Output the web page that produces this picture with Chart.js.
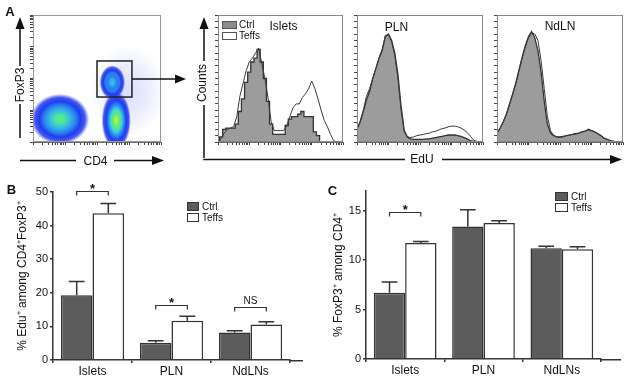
<!DOCTYPE html>
<html><head><meta charset="utf-8">
<script src="https://cdn.jsdelivr.net/npm/chart.js@4/dist/chart.umd.min.js"></script>
<style>
html,body{margin:0;padding:0;background:#fff;}
#root{position:relative;width:630px;height:382px;overflow:hidden;font-family:"Liberation Sans",Arial,Helvetica,sans-serif;color:#111;}
canvas{position:absolute;}
.t{position:absolute;white-space:nowrap;line-height:1;}
.c{transform:translate(-50%,-50%);}
.l{transform:translateY(-50%);}
.r{transform:translate(-50%,-50%) rotate(-90deg);}
.sw{position:absolute;box-sizing:border-box;}
</style></head><body><div id="root">
<canvas id="dot" style="left:0;top:0;width:195px;height:175px" width="195" height="175"></canvas>
<canvas id="hIslets" style="left:210px;top:0;width:140px;height:150px" width="140" height="150"></canvas>
<canvas id="hPLN" style="left:350px;top:0;width:140px;height:150px" width="140" height="150"></canvas>
<canvas id="hNdLN" style="left:490px;top:0;width:140px;height:150px" width="140" height="150"></canvas>
<canvas id="barB" style="left:0;top:170px;width:315px;height:212px" width="315" height="212"></canvas>
<canvas id="barC" style="left:320px;top:170px;width:310px;height:212px" width="310" height="212"></canvas>

<svg width="630" height="382" style="position:absolute;left:0;top:0;pointer-events:none">
<g stroke="#111" stroke-width="1.5" fill="none">
 <line x1="20" y1="28" x2="20" y2="66"/>
 <line x1="20" y1="104" x2="20" y2="138"/>
 <line x1="20" y1="160.5" x2="76" y2="160.5"/>
 <line x1="114" y1="160.5" x2="153" y2="160.5"/>
 <line x1="132" y1="79" x2="176" y2="79"/>
 <line x1="204" y1="28" x2="204" y2="61"/>
 <line x1="204" y1="105" x2="204" y2="158"/>
 <line x1="203.25" y1="159.5" x2="405" y2="159.5"/>
 <line x1="442" y1="159.5" x2="612" y2="159.5"/>
</g>
<g fill="#111">
 <polygon points="20,17 15.5,29 24.5,29"/>
 <polygon points="164,160.5 152,156 152,165"/>
 <polygon points="186,79 175,74.5 175,83.5"/>
 <polygon points="204,17 199.5,29 208.5,29"/>
 <polygon points="622,159.5 610,155 610,164"/>
</g>
</svg>

<div class="t c" style="left:10px;top:11px;font-size:13px;font-weight:bold">A</div>
<div class="t r" style="left:20px;top:85px;font-size:12px">FoxP3</div>
<div class="t c" style="left:95.5px;top:161px;font-size:12px">CD4</div>
<div class="t r" style="left:202px;top:83px;font-size:12px">Counts</div>
<div class="t c" style="left:422px;top:159px;font-size:12px">EdU</div>
<div class="t c" style="left:283.5px;top:25.5px;font-size:12px">Islets</div>
<div class="t c" style="left:396.5px;top:27px;font-size:12px">PLN</div>
<div class="t c" style="left:560px;top:26px;font-size:12px">NdLN</div>
<div class="sw" style="left:222px;top:21px;width:15px;height:8px;background:#8c8c8c;border:1px solid #555"></div>
<div class="sw" style="left:222px;top:32px;width:15px;height:8px;background:#fff;border:1px solid #555"></div>
<div class="t l" style="left:239px;top:25px;font-size:10px">Ctrl</div>
<div class="t l" style="left:239px;top:36px;font-size:10px">Teffs</div>

<div class="t c" style="left:11.5px;top:189px;font-size:13px;font-weight:bold">B</div>
<div class="sw" style="left:187px;top:202px;width:12px;height:9px;background:#5c5c5c;border:1px solid #333"></div>
<div class="sw" style="left:187px;top:213px;width:12px;height:9px;background:#fff;border:1px solid #333"></div>
<div class="t l" style="left:202px;top:206.5px;font-size:10px">Ctrl</div>
<div class="t l" style="left:202px;top:217.5px;font-size:10px">Teffs</div>

<div class="t c" style="left:332.5px;top:189.5px;font-size:13px;font-weight:bold">C</div>
<div class="sw" style="left:555px;top:192px;width:13px;height:9px;background:#5c5c5c;border:1px solid #333"></div>
<div class="sw" style="left:555px;top:203px;width:13px;height:9px;background:#fff;border:1px solid #333"></div>
<div class="t l" style="left:571px;top:196.5px;font-size:10px">Ctrl</div>
<div class="t l" style="left:571px;top:207.5px;font-size:10px">Teffs</div>
</div>
<script>
// ---------- DATA ----------
const barCategories = ['Islets', 'PLN', 'NdLNs'];
const seriesNames = ['Ctrl', 'Teffs'];

// Panel B: % EdU+ among CD4+FoxP3+
const eduCtrl = [19.3, 5.1, 8.2];
const eduCtrlSem = [4.1, 0.6, 0.5];
const eduTeffs = [43.7, 11.7, 10.6];
const eduTeffsSem = [2.9, 1.3, 0.8];
const eduTicks = [0, 10, 20, 30, 40, 50];
const eduSigText = ['*', '*', 'NS'];
const eduSigLevel = [50.3, 16.4, 15.9];

// Panel C: % FoxP3+ among CD4+
const foxCtrl = [6.7, 13.4, 11.2];
const foxCtrlSem = [1.1, 1.7, 0.2];
const foxTeffs = [11.75, 13.75, 11.1];
const foxTeffsSem = [0.15, 0.25, 0.25];
const foxTicks = [0, 5, 10, 15];
const foxSigText = ['*', null, null];
const foxSigLevel = [14.9, null, null];

// Panel A histograms (EdU channel position 0-100, counts as % of panel height)
const histX = [0,2.5,5,7.5,10,12.5,15,17.5,20,22.5,25,27.5,30,32.5,35,37.5,40,42.5,45,47.5,50,52.5,55,57.5,60,62.5,65,67.5,70,72.5,75,77.5,80,82.5,85,87.5,90,92.5,95,97.5,100];
const isletsCtrl  = [0,4,10,11,11,11,14,24,34,47,55,63,66,73,63,50,32,14,6,6,6,6,13,18,20,20,22,24,20,20,20,8,5,0,0,0,0,0,0,0,0];
const isletsTeffs = [0,3,7,10,11,12,20,36,46,56,63,66,70,74,62,50,35,16,9,9,9,9,13,20,27,30,30,35,38,42,48,42,34,25,17,12,6,1,0,0,0];
const plnCtrl  = [10,16,24,33,40,50,58,66,72,83,85,80,70,53,28,9,4,2.5,2,2,2,2,2.5,2.5,3,3.5,4,4.5,5,5.5,5.5,5.5,5,4.5,3.5,2.5,1,0.5,0,0,0];
const plnTeffs = [10,16,25,36,42,50,58,66,73,84,84,79,68,50,25,8,4,3.5,4,5,5.5,6,6.5,7,8,8.5,9.5,10.5,11,12,12.5,12.5,12,11,9.5,7.5,4.5,1.5,0.5,0,0];
const ndlnCtrl  = [7,11,16,22,30,38,47,57,67,76,83,87,82,72,55,32,14,7,5,4,4,4.5,5,5.5,6,6.5,7,8,8.5,10,9,8,6.5,5,3,2,1,0.5,0,0,0];
const ndlnTeffs = [7,11,16,22,30,38,46,56,66,75,82,86,85,80,64,42,20,9,5,4,3.5,4,5,5.5,6,6.5,7,8,8.5,9.5,9,8,6.5,5,3,2,1,0.5,0,0,0];

// Panel A dot plot: populations (CD4 position, FoxP3 position, spread, relative density)
const dotPopNames = ['scatter', 'CD4-FoxP3-', 'CD4+FoxP3-', 'CD4+FoxP3+'];
const dotPopCD4 = [74, 21, 65, 62];
const dotPopFoxP3 = [40, 18, 17, 47];
const dotPopSpreadCD4 = [30, 23, 11.5, 10];
const dotPopSpreadFoxP3 = [36, 20, 23, 13.5];
const dotPopDensity = [0, 0.8, 1.0, 0.52];
const gateCD4 = [50, 77.3];
const gateFoxP3 = [35.4, 63.8];

// log-decade tick positions for cytometry axes (4 decades over 0-100)
const logDecadeStarts = [0, 25, 50, 75];
const logMinor = [1, 2, 3, 4, 5, 6, 7, 8, 9];
const logTicks = logDecadeStarts.flatMap(d => logMinor.map(k => d + 25 * Math.log10(k))).concat([100]);
const histYTicks = [0,5,10,15,20,25,30,35,40,45,50,55,60,65,70,75,80,85,90,95,100];

// ---------- CHARTS ----------
Chart.defaults.font.family = '"Liberation Sans", Arial, Helvetica, sans-serif';
Chart.defaults.color = '#111';
Chart.defaults.animation = false;
Chart.defaults.plugins.legend.display = false;
Chart.defaults.plugins.tooltip.enabled = false;

const frame = {
  id: 'frame',
  afterDraw(chart, args, opts) {
    const a = chart.chartArea, c = chart.ctx;
    c.save();
    c.strokeStyle = opts.color || '#888';
    c.lineWidth = 1;
    c.strokeRect(Math.round(a.left) + 0.5, Math.round(a.top) + 0.5, Math.round(a.right - a.left) - 1, Math.round(a.bottom - a.top) - 1);
    c.restore();
  }
};

function tickAxis(size, horizontal, vals) {
  return {
    type: 'linear', min: 0, max: 100,
    ticks: { display: false },
    grid: { drawOnChartArea: false, tickLength: 3, color: '#444', lineWidth: 1 },
    border: { display: true, color: '#666', width: 1 },
    afterBuildTicks: s => { s.ticks = vals.map(v => ({ value: v })); },
    afterFit: s => { if (horizontal) s.height = size; else s.width = size; }
  };
}

// colour map for density plot
const cmapStops = [[0, [28, 45, 235]], [0.35, [45, 140, 245]], [0.55, [60, 215, 215]], [0.78, [85, 240, 115]], [1, [225, 240, 30]]];
function cmap(t, a) {
  t = Math.max(0, Math.min(1, t));
  for (let i = 1; i < cmapStops.length; i++) {
    const [t1, c1] = cmapStops[i], [t0, c0] = cmapStops[i - 1];
    if (t <= t1) {
      const f = (t - t0) / (t1 - t0);
      const c = c0.map((v, j) => Math.round(v + (c1[j] - v) * f));
      return `rgba(${c[0]},${c[1]},${c[2]},${a})`;
    }
  }
  return `rgba(225,240,30,${a})`;
}

const densityPlugin = {
  id: 'density',
  beforeDatasetsDraw(chart) {
    const { ctx, chartArea: a, scales: { x, y } } = chart;
    ctx.save();
    ctx.beginPath(); ctx.rect(a.left, a.top, a.right - a.left, a.bottom - a.top); ctx.clip();
    for (let i = 0; i < dotPopCD4.length; i++) {
      const px = x.getPixelForValue(dotPopCD4[i]);
      const py = y.getPixelForValue(dotPopFoxP3[i]);
      const rx = Math.abs(x.getPixelForValue(dotPopCD4[i] + dotPopSpreadCD4[i]) - px);
      const ry = Math.abs(y.getPixelForValue(dotPopFoxP3[i] + dotPopSpreadFoxP3[i]) - py);
      const p = dotPopDensity[i];
      ctx.save();
      ctx.translate(px, py); ctx.scale(rx, ry);
      const g = ctx.createRadialGradient(0, 0, 0, 0, 0, 1);
      if (p === 0) {
        g.addColorStop(0, 'rgba(80,100,240,0.22)');
        g.addColorStop(0.6, 'rgba(100,120,240,0.12)');
        g.addColorStop(1, 'rgba(120,140,245,0)');
      } else {
        g.addColorStop(0, cmap(p, 1));
        g.addColorStop(0.18, cmap(p * 0.82, 1));
        g.addColorStop(0.38, cmap(p * 0.56, 1));
        g.addColorStop(0.55, cmap(0.3, 1));
        g.addColorStop(0.7, cmap(0.06, 1));
        g.addColorStop(0.86, 'rgba(40,60,238,0.85)');
        g.addColorStop(1, 'rgba(70,90,240,0)');
      }
      ctx.fillStyle = g;
      ctx.beginPath(); ctx.arc(0, 0, 1, 0, Math.PI * 2); ctx.fill();
      ctx.restore();
    }
    ctx.restore();
    // gate
    const gx1 = x.getPixelForValue(gateCD4[0]), gx2 = x.getPixelForValue(gateCD4[1]);
    const gy1 = y.getPixelForValue(gateFoxP3[1]), gy2 = y.getPixelForValue(gateFoxP3[0]);
    ctx.save();
    ctx.strokeStyle = '#222'; ctx.lineWidth = 1.5;
    ctx.strokeRect(gx1, gy1, gx2 - gx1, gy2 - gy1);
    ctx.restore();
  }
};

new Chart(document.getElementById('dot'), {
  type: 'scatter',
  data: { datasets: [{ label: 'populations', data: dotPopCD4.map((v, i) => ({ x: v, y: dotPopFoxP3[i] })), pointRadius: 0 }] },
  options: {
    responsive: false,
    layout: { padding: { top: 15, right: 34, left: 0, bottom: 0 } },
    scales: { x: tickAxis(33, true, logTicks), y: tickAxis(33, false, logTicks) },
    plugins: { frame: { color: '#999' } }
  },
  plugins: [densityPlugin, frame]
});

function makeHist(id, ctrlVals, teffsVals, stepped, leftW) {
  new Chart(document.getElementById(id), {
    type: 'line',
    data: {
      datasets: [
        { label: seriesNames[1], data: histX.map((v, i) => ({ x: v, y: teffsVals[i] })), borderColor: '#3a3a3a', borderWidth: 1, fill: false, pointRadius: 0, order: 1 },
        { label: seriesNames[0], data: histX.map((v, i) => ({ x: v, y: ctrlVals[i] })), borderColor: '#333', borderWidth: 1.3, backgroundColor: '#9c9c9c', fill: 'origin', pointRadius: 0, stepped: stepped, order: 2 }
      ]
    },
    options: {
      responsive: false,
      layout: { padding: { top: 15, right: 7, left: 0, bottom: 0 } },
      scales: { x: tickAxis(8, true, logTicks), y: tickAxis(leftW, false, histYTicks) },
      plugins: { frame: { color: '#888' } }
    },
    plugins: [frame]
  });
}
makeHist('hIslets', isletsCtrl, isletsTeffs, 'middle', 8);
makeHist('hPLN', plnCtrl, plnTeffs, false, 7);
makeHist('hNdLN', ndlnCtrl, ndlnTeffs, false, 7);

const errorBars = {
  id: 'errorBars',
  afterDatasetsDraw(chart, args, opts) {
    const { ctx, scales: { y } } = chart;
    ctx.save();
    ctx.strokeStyle = '#333'; ctx.lineWidth = 1.5;
    chart.data.datasets.forEach((ds, di) => {
      const meta = chart.getDatasetMeta(di);
      meta.data.forEach((bar, j) => {
        const top = y.getPixelForValue(ds.data[j]);
        const e = y.getPixelForValue(ds.data[j] + opts.sem[di][j]);
        const hw = bar.width / 4;
        ctx.beginPath();
        ctx.moveTo(bar.x, top); ctx.lineTo(bar.x, e);
        ctx.moveTo(bar.x - hw, e); ctx.lineTo(bar.x + hw, e);
        ctx.stroke();
      });
    });
    // significance brackets
    ctx.fillStyle = '#111';
    ctx.textAlign = 'center';
    opts.sigText.forEach((txt, j) => {
      if (!txt) return;
      const x1 = chart.getDatasetMeta(0).data[j].x;
      const x2 = chart.getDatasetMeta(1).data[j].x;
      const yy = Math.round(y.getPixelForValue(opts.sigLevel[j])) + 0.5;
      ctx.lineWidth = 1.2; ctx.strokeStyle = '#333';
      ctx.beginPath();
      ctx.moveTo(x1, yy + 4); ctx.lineTo(x1, yy); ctx.lineTo(x2, yy); ctx.lineTo(x2, yy + 4);
      ctx.stroke();
      if (txt === '*') {
        ctx.font = 'bold 13px "Liberation Sans", Arial, sans-serif';
        ctx.textBaseline = 'alphabetic';
        ctx.fillText(txt, (x1 + x2) / 2, yy + 1);
      } else {
        ctx.font = '10px "Liberation Sans", Arial, sans-serif';
        ctx.textBaseline = 'alphabetic';
        ctx.fillText(txt, (x1 + x2) / 2, yy - 4);
      }
    });
    // x-axis extension
    const a = chart.chartArea;
    ctx.strokeStyle = '#333'; ctx.lineWidth = 1.5;
    ctx.beginPath(); ctx.moveTo(a.right - 1, a.bottom + 0.75); ctx.lineTo(a.right + opts.ext, a.bottom + 0.75); ctx.stroke();
    ctx.restore();
  }
};

function makeBar(id, ctrl, teffs, ctrlSem, teffsSem, ticksArr, yMax, title, sigText, sigLevel, cfg) {
  new Chart(document.getElementById(id), {
    type: 'bar',
    data: {
      labels: barCategories,
      datasets: [
        { label: seriesNames[0], data: ctrl, backgroundColor: '#5c5c5c', borderColor: '#333', borderWidth: 1.5, categoryPercentage: 0.8, barPercentage: 1.0 },
        { label: seriesNames[1], data: teffs, backgroundColor: '#ffffff', borderColor: '#333', borderWidth: 1.5, categoryPercentage: 0.8, barPercentage: 1.0 }
      ]
    },
    options: {
      responsive: false,
      layout: { padding: { top: cfg.top, right: cfg.right, left: 0, bottom: 0 } },
      scales: {
        x: {
          grid: { offset: true, drawOnChartArea: false, tickLength: 3, color: '#333', lineWidth: 1.5 },
          border: { color: '#333', width: 1.5 },
          ticks: { font: { size: 12 }, color: '#111', padding: 1 },
          afterFit: s => { s.height = cfg.xh; }
        },
        y: {
          min: 0, max: yMax,
          afterBuildTicks: s => { s.ticks = ticksArr.map(v => ({ value: v })); },
          ticks: { font: { size: 11 }, color: '#111', padding: 2 },
          grid: { drawOnChartArea: false, tickLength: 3, color: '#333', lineWidth: 1.5 },
          border: { color: '#333', width: 1.5 },
          title: { display: true, text: title, font: { size: 12 }, color: '#111', padding: { top: cfg.tpad, bottom: 0 } },
          afterFit: s => { s.width = cfg.yw; }
        }
      },
      plugins: { errorBars: { sem: [ctrlSem, teffsSem], sigText: sigText, sigLevel: sigLevel, ext: cfg.ext } }
    },
    plugins: [errorBars]
  });
}

makeBar('barB', eduCtrl, eduTeffs, eduCtrlSem, eduTeffsSem, eduTicks, 50,
  '% Edu\u207A among CD4\u207AFoxP3\u207A', eduSigText, eduSigLevel,
  { top: 22, right: 25, xh: 22, yw: 53, tpad: 15, ext: 13 });
makeBar('barC', foxCtrl, foxTeffs, foxCtrlSem, foxTeffsSem, foxTicks, 17,
  '% FoxP3\u207A among CD4\u207A', foxSigText, foxSigLevel,
  { top: 21, right: 29, xh: 23, yw: 46, tpad: 11, ext: 20 });
</script>
</body></html>
